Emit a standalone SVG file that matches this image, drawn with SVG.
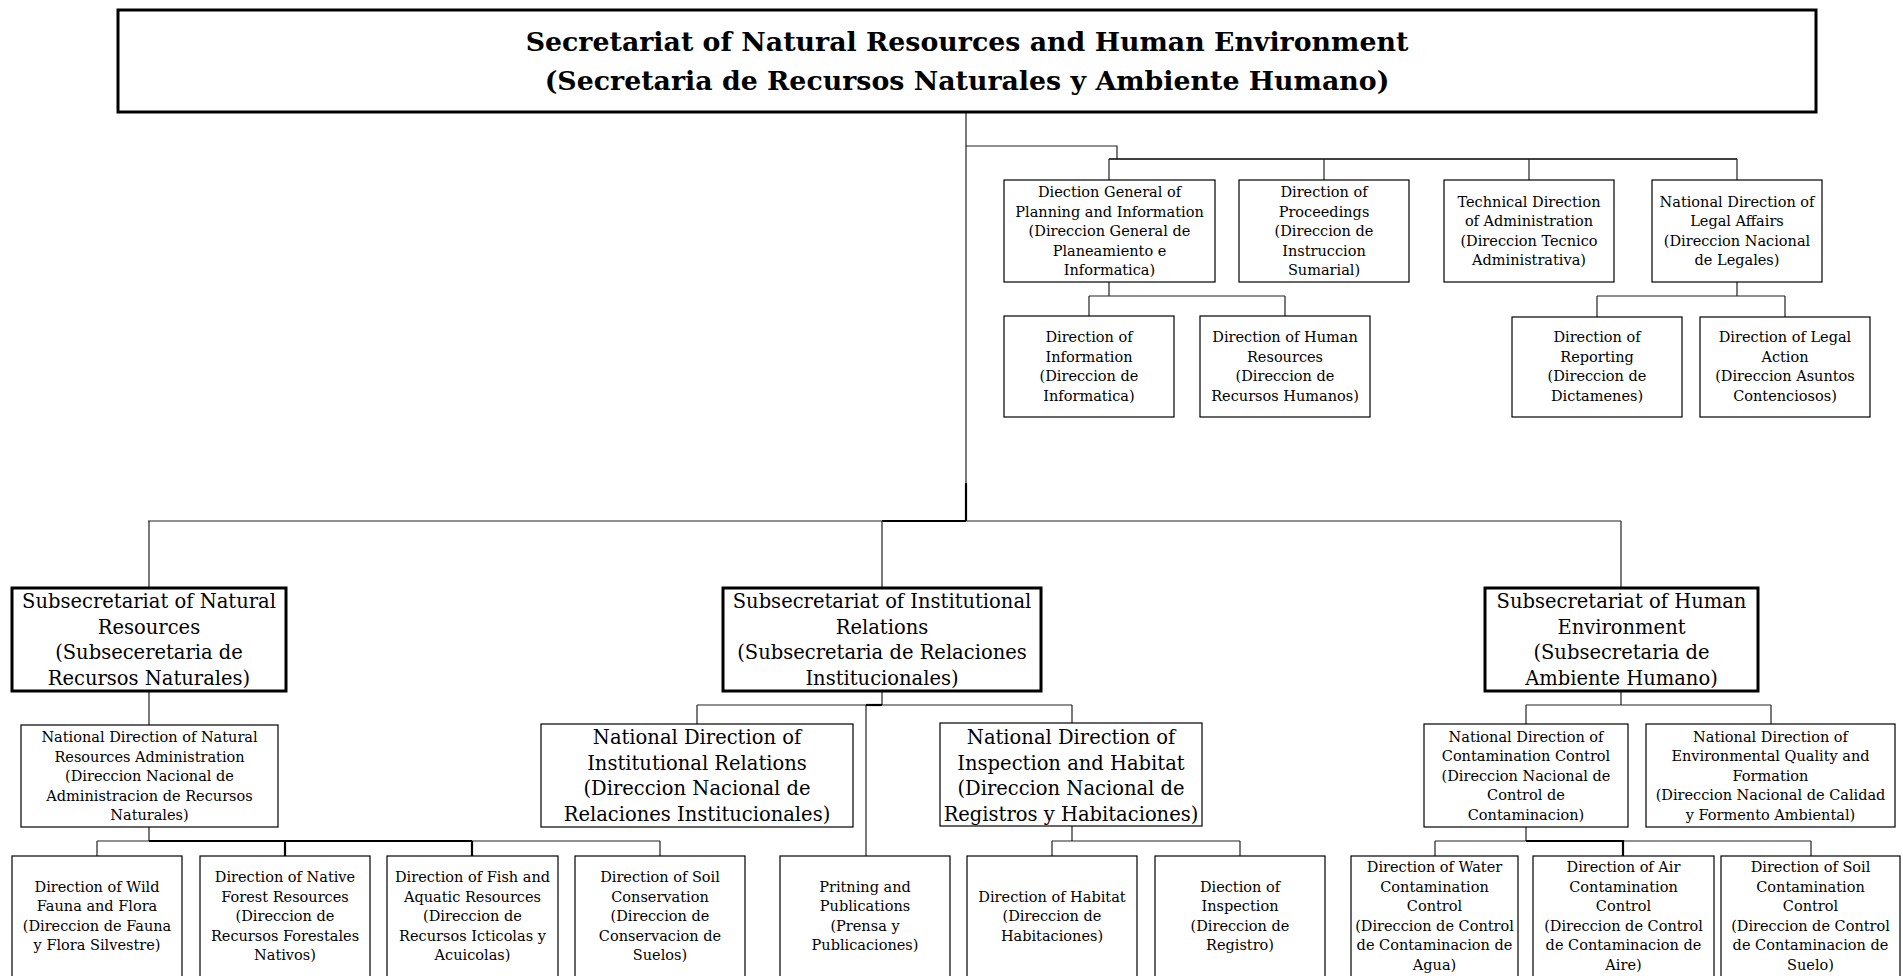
<svg xmlns="http://www.w3.org/2000/svg" width="1903" height="976" viewBox="0 0 1903 976">
<style>
.box{fill:#fff;stroke:#000;stroke-width:1.2}
.sub{fill:#fff;stroke:#000;stroke-width:3}
.t{font-family:"DejaVu Serif",serif;font-size:14.5px;text-anchor:middle;fill:#000}
.tl{font-size:19.5px}
.title{font-family:"DejaVu Serif",serif;font-weight:bold;font-size:26.8px;text-anchor:middle;fill:#000}
.c{stroke:#222;stroke-width:1.2;fill:none}
.ck{stroke:#000;stroke-width:2.2;fill:none}
</style>
<rect width="1903" height="976" fill="#fff"/>
<g id="connectors">
<path class="c" d="M966,112V483"/>
<path class="ck" d="M966,483V521"/>
<path class="c" d="M966,146H1117V159"/>
<path class="ck" d="M1109,159H1737" style="stroke-width:1.6"/>
<path class="c" d="M1109,159V180M1324,159V180M1529,159V180M1737,159V180"/>
<path class="c" d="M1109,282V296M1089,296H1285M1089,296V316M1285,296V316"/>
<path class="c" d="M1737,282V296M1597,296H1785M1597,296V317M1785,296V317"/>
<path class="c" d="M148,521H1621"/>
<path class="ck" d="M882,521H966"/>
<path class="c" d="M149,521V588M882,521V588M1621,521V588"/>
<path class="c" d="M149,691V725M149,827V841M97,841H660M97,841V856M285,841V856M472,841V856M660,841V856"/>
<path class="ck" d="M149,841H472M285,841V856M472,841V856"/>
<path class="c" d="M882,691V705M697,705H1072M697,705V724M1072,705V723M866,705V856"/>
<path class="ck" d="M866,705H882"/>
<path class="c" d="M1072,826V841M1052,841H1240M1052,841V856M1240,841V856"/>
<path class="c" d="M1621,691V705M1526,705H1771M1526,705V724M1771,705V724"/>
<path class="c" d="M1526,827V841M1435,841H1811M1435,841V856M1811,841V856"/>
<path class="ck" d="M1526,841H1623V856"/>
</g>
<g id="secretariat">
<rect x="118" y="10" width="1698" height="102" style="fill:#fff;stroke:#000;stroke-width:3"/>
<text class="title" x="967" y="51">Secretariat of Natural Resources and Human Environment</text>
<text class="title" x="967" y="90">(Secretaria de Recursos Naturales y Ambiente Humano)</text>
</g>
<g id="dgpi">
<rect class="box" x="1004" y="180" width="211" height="102"/>
<text class="t" y="197"><tspan x="1109.5">Diection General of</tspan><tspan x="1109.5" dy="19.5">Planning and Information</tspan><tspan x="1109.5" dy="19.5">(Direccion General de</tspan><tspan x="1109.5" dy="19.5">Planeamiento e</tspan><tspan x="1109.5" dy="19.5">Informatica)</tspan></text>
</g>
<g id="proceedings">
<rect class="box" x="1239" y="180" width="170" height="102"/>
<text class="t" y="197"><tspan x="1324">Direction of</tspan><tspan x="1324" dy="19.5">Proceedings</tspan><tspan x="1324" dy="19.5">(Direccion de</tspan><tspan x="1324" dy="19.5">Instruccion</tspan><tspan x="1324" dy="19.5">Sumarial)</tspan></text>
</g>
<g id="technical">
<rect class="box" x="1444" y="180" width="170" height="102"/>
<text class="t" y="206.75"><tspan x="1529">Technical Direction</tspan><tspan x="1529" dy="19.5">of Administration</tspan><tspan x="1529" dy="19.5">(Direccion Tecnico</tspan><tspan x="1529" dy="19.5">Administrativa)</tspan></text>
</g>
<g id="legal">
<rect class="box" x="1652" y="180" width="170" height="102"/>
<text class="t" y="206.75"><tspan x="1737">National Direction of</tspan><tspan x="1737" dy="19.5">Legal Affairs</tspan><tspan x="1737" dy="19.5">(Direccion Nacional</tspan><tspan x="1737" dy="19.5">de Legales)</tspan></text>
</g>
<g id="information">
<rect class="box" x="1004" y="316" width="170" height="101"/>
<text class="t" y="342.25"><tspan x="1089">Direction of</tspan><tspan x="1089" dy="19.5">Information</tspan><tspan x="1089" dy="19.5">(Direccion de</tspan><tspan x="1089" dy="19.5">Informatica)</tspan></text>
</g>
<g id="humanres">
<rect class="box" x="1200" y="316" width="170" height="101"/>
<text class="t" y="342.25"><tspan x="1285">Direction of Human</tspan><tspan x="1285" dy="19.5">Resources</tspan><tspan x="1285" dy="19.5">(Direccion de</tspan><tspan x="1285" dy="19.5">Recursos Humanos)</tspan></text>
</g>
<g id="reporting">
<rect class="box" x="1512" y="317" width="170" height="100"/>
<text class="t" y="342.25"><tspan x="1597">Direction of</tspan><tspan x="1597" dy="19.5">Reporting</tspan><tspan x="1597" dy="19.5">(Direccion de</tspan><tspan x="1597" dy="19.5">Dictamenes)</tspan></text>
</g>
<g id="legalaction">
<rect class="box" x="1700" y="317" width="170" height="100"/>
<text class="t" y="342.25"><tspan x="1785">Direction of Legal</tspan><tspan x="1785" dy="19.5">Action</tspan><tspan x="1785" dy="19.5">(Direccion Asuntos</tspan><tspan x="1785" dy="19.5">Contenciosos)</tspan></text>
</g>
<g id="sub-natural">
<rect class="sub" x="12" y="588" width="274" height="103"/>
<text class="t tl" y="608.25"><tspan x="149">Subsecretariat of Natural</tspan><tspan x="149" dy="25.5">Resources</tspan><tspan x="149" dy="25.5">(Subseceretaria de</tspan><tspan x="149" dy="25.5">Recursos Naturales)</tspan></text>
</g>
<g id="sub-institutional">
<rect class="sub" x="723" y="588" width="318" height="103"/>
<text class="t tl" y="608.25"><tspan x="882">Subsecretariat of Institutional</tspan><tspan x="882" dy="25.5">Relations</tspan><tspan x="882" dy="25.5">(Subsecretaria de Relaciones</tspan><tspan x="882" dy="25.5">Institucionales)</tspan></text>
</g>
<g id="sub-human">
<rect class="sub" x="1485" y="588" width="273" height="103"/>
<text class="t tl" y="608.25"><tspan x="1621.5">Subsecretariat of Human</tspan><tspan x="1621.5" dy="25.5">Environment</tspan><tspan x="1621.5" dy="25.5">(Subsecretaria de</tspan><tspan x="1621.5" dy="25.5">Ambiente Humano)</tspan></text>
</g>
<g id="nd-natural">
<rect class="box" x="21" y="725" width="257" height="102"/>
<text class="t" y="742"><tspan x="149.5">National Direction of Natural</tspan><tspan x="149.5" dy="19.5">Resources Administration</tspan><tspan x="149.5" dy="19.5">(Direccion Nacional de</tspan><tspan x="149.5" dy="19.5">Administracion de Recursos</tspan><tspan x="149.5" dy="19.5">Naturales)</tspan></text>
</g>
<g id="nd-institutional">
<rect class="box" x="541" y="724" width="312" height="103"/>
<text class="t tl" y="744.25"><tspan x="697">National Direction of</tspan><tspan x="697" dy="25.5">Institutional Relations</tspan><tspan x="697" dy="25.5">(Direccion Nacional de</tspan><tspan x="697" dy="25.5">Relaciones Institucionales)</tspan></text>
</g>
<g id="nd-inspection">
<rect class="box" x="940" y="723" width="262" height="103"/>
<text class="t tl" y="744.25"><tspan x="1071">National Direction of</tspan><tspan x="1071" dy="25.5">Inspection and Habitat</tspan><tspan x="1071" dy="25.5">(Direccion Nacional de</tspan><tspan x="1071" dy="25.5">Registros y Habitaciones)</tspan></text>
</g>
<g id="nd-contamination">
<rect class="box" x="1424" y="724" width="204" height="103"/>
<text class="t" y="741.5"><tspan x="1526">National Direction of</tspan><tspan x="1526" dy="19.5">Contamination Control</tspan><tspan x="1526" dy="19.5">(Direccion Nacional de</tspan><tspan x="1526" dy="19.5">Control de</tspan><tspan x="1526" dy="19.5">Contaminacion)</tspan></text>
</g>
<g id="nd-quality">
<rect class="box" x="1646" y="724" width="249" height="103"/>
<text class="t" y="741.5"><tspan x="1770.5">National Direction of</tspan><tspan x="1770.5" dy="19.5">Environmental Quality and</tspan><tspan x="1770.5" dy="19.5">Formation</tspan><tspan x="1770.5" dy="19.5">(Direccion Nacional de Calidad</tspan><tspan x="1770.5" dy="19.5">y Formento Ambiental)</tspan></text>
</g>
<g id="wildfauna">
<rect class="box" x="12" y="856" width="170" height="130"/>
<text class="t" y="891.75"><tspan x="97">Direction of Wild</tspan><tspan x="97" dy="19.5">Fauna and Flora</tspan><tspan x="97" dy="19.5">(Direccion de Fauna</tspan><tspan x="97" dy="19.5">y Flora Silvestre)</tspan></text>
</g>
<g id="forest">
<rect class="box" x="200" y="856" width="170" height="130"/>
<text class="t" y="882"><tspan x="285">Direction of Native</tspan><tspan x="285" dy="19.5">Forest Resources</tspan><tspan x="285" dy="19.5">(Direccion de</tspan><tspan x="285" dy="19.5">Recursos Forestales</tspan><tspan x="285" dy="19.5">Nativos)</tspan></text>
</g>
<g id="fish">
<rect class="box" x="387" y="856" width="171" height="130"/>
<text class="t" y="882"><tspan x="472.5">Direction of Fish and</tspan><tspan x="472.5" dy="19.5">Aquatic Resources</tspan><tspan x="472.5" dy="19.5">(Direccion de</tspan><tspan x="472.5" dy="19.5">Recursos Icticolas y</tspan><tspan x="472.5" dy="19.5">Acuicolas)</tspan></text>
</g>
<g id="soilcons">
<rect class="box" x="575" y="856" width="170" height="130"/>
<text class="t" y="882"><tspan x="660">Direction of Soil</tspan><tspan x="660" dy="19.5">Conservation</tspan><tspan x="660" dy="19.5">(Direccion de</tspan><tspan x="660" dy="19.5">Conservacion de</tspan><tspan x="660" dy="19.5">Suelos)</tspan></text>
</g>
<g id="printing">
<rect class="box" x="780" y="856" width="170" height="130"/>
<text class="t" y="891.75"><tspan x="865">Pritning and</tspan><tspan x="865" dy="19.5">Publications</tspan><tspan x="865" dy="19.5">(Prensa y</tspan><tspan x="865" dy="19.5">Publicaciones)</tspan></text>
</g>
<g id="habitat">
<rect class="box" x="967" y="856" width="170" height="130"/>
<text class="t" y="901.5"><tspan x="1052">Direction of Habitat</tspan><tspan x="1052" dy="19.5">(Direccion de</tspan><tspan x="1052" dy="19.5">Habitaciones)</tspan></text>
</g>
<g id="inspection">
<rect class="box" x="1155" y="856" width="170" height="130"/>
<text class="t" y="891.75"><tspan x="1240">Diection of</tspan><tspan x="1240" dy="19.5">Inspection</tspan><tspan x="1240" dy="19.5">(Direccion de</tspan><tspan x="1240" dy="19.5">Registro)</tspan></text>
</g>
<g id="water">
<rect class="box" x="1351" y="856" width="167" height="130"/>
<text class="t" y="872.25"><tspan x="1434.5">Direction of Water</tspan><tspan x="1434.5" dy="19.5">Contamination</tspan><tspan x="1434.5" dy="19.5">Control</tspan><tspan x="1434.5" dy="19.5">(Direccion de Control</tspan><tspan x="1434.5" dy="19.5">de Contaminacion de</tspan><tspan x="1434.5" dy="19.5">Agua)</tspan></text>
</g>
<g id="air">
<rect class="box" x="1533" y="856" width="181" height="130"/>
<text class="t" y="872.25"><tspan x="1623.5">Direction of Air</tspan><tspan x="1623.5" dy="19.5">Contamination</tspan><tspan x="1623.5" dy="19.5">Control</tspan><tspan x="1623.5" dy="19.5">(Direccion de Control</tspan><tspan x="1623.5" dy="19.5">de Contaminacion de</tspan><tspan x="1623.5" dy="19.5">Aire)</tspan></text>
</g>
<g id="soilcont">
<rect class="box" x="1721" y="856" width="179" height="130"/>
<text class="t" y="872.25"><tspan x="1810.5">Direction of Soil</tspan><tspan x="1810.5" dy="19.5">Contamination</tspan><tspan x="1810.5" dy="19.5">Control</tspan><tspan x="1810.5" dy="19.5">(Direccion de Control</tspan><tspan x="1810.5" dy="19.5">de Contaminacion de</tspan><tspan x="1810.5" dy="19.5">Suelo)</tspan></text>
</g>
</svg>
